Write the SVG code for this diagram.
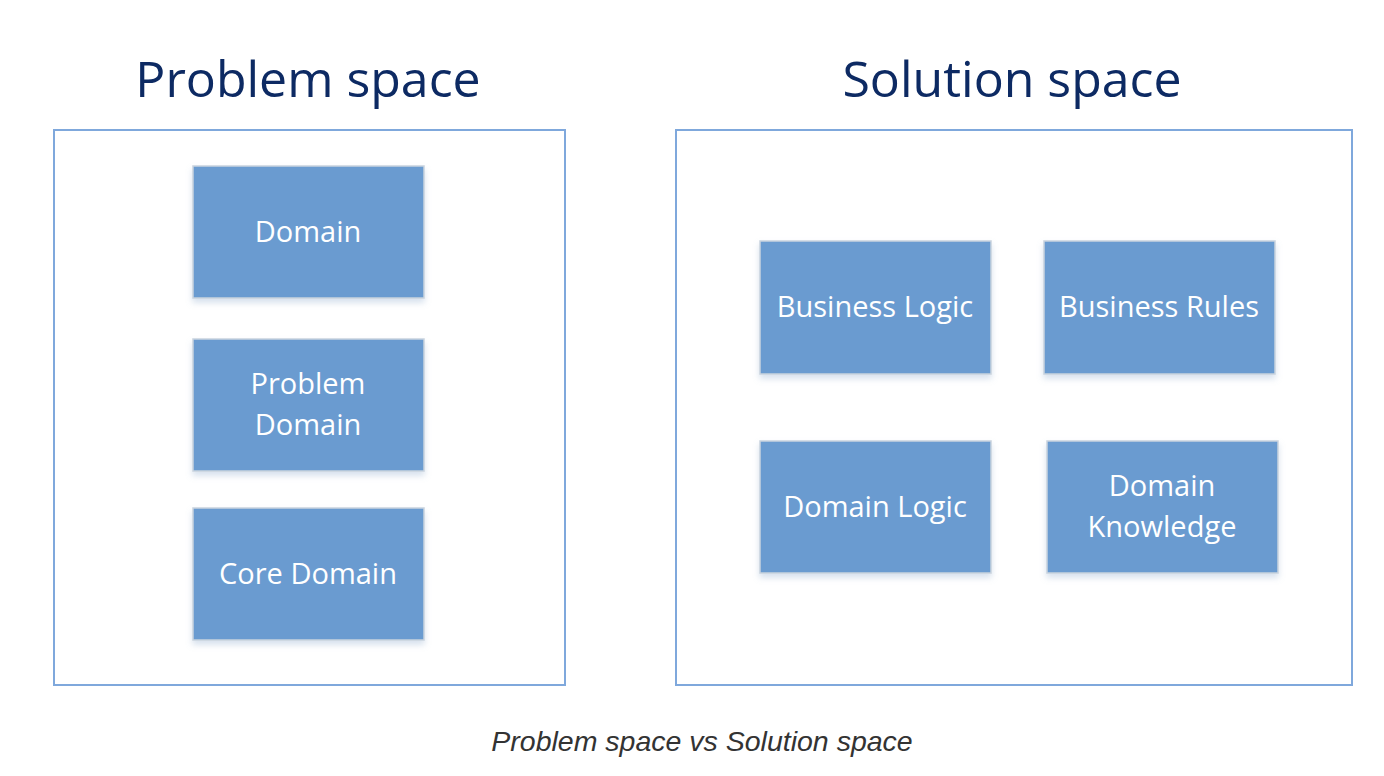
<svg xmlns="http://www.w3.org/2000/svg" width="1384" height="776" viewBox="0 0 1384 776">
<defs>
<style>
.title{font-family:"Open Sans","Noto Sans",sans-serif;font-size:50px;fill:#0D2A63;text-anchor:middle}
.container{fill:#fff;stroke:#7FA8DC;stroke-width:2}
.node rect{fill:#6A9BD0;stroke:#C9D3DE;stroke-width:1.5}
.node text{font-family:"Open Sans","Noto Sans",sans-serif;font-size:29px;fill:#fff;text-anchor:middle}
.caption{font-family:"Liberation Sans",Arial,sans-serif;font-style:italic;font-size:28.5px;fill:#333;text-anchor:middle}
</style>
<filter id="sh" x="-10%" y="-10%" width="120%" height="130%">
<feDropShadow dx="0" dy="4" stdDeviation="3" flood-color="#8AA8CC" flood-opacity="0.35"/>
</filter>
</defs>
<rect width="1384" height="776" fill="#fff"/>
<text class="title" x="308" y="97">Problem space</text>
<text class="title" x="1012" y="97">Solution space</text>
<rect id="problem-space" class="container" x="54" y="130" width="511" height="555"/>
<rect id="solution-space" class="container" x="676" y="130" width="676" height="555"/>
<g id="connectors"></g>
<g id="domain" class="node"><rect x="193" y="166" width="231" height="132" filter="url(#sh)"/><text x="308" y="242">Domain</text></g>
<g id="problem-domain" class="node"><rect x="193" y="339" width="231" height="132" filter="url(#sh)"/><text x="308" y="394">Problem</text><text x="308" y="435">Domain</text></g>
<g id="core-domain" class="node"><rect x="193" y="508" width="231" height="132" filter="url(#sh)"/><text x="308" y="584">Core Domain</text></g>
<g id="business-logic" class="node"><rect x="760" y="241" width="231" height="133" filter="url(#sh)"/><text x="875" y="317">Business Logic</text></g>
<g id="business-rules" class="node"><rect x="1044" y="241" width="231" height="133" filter="url(#sh)"/><text x="1159" y="317">Business Rules</text></g>
<g id="domain-logic" class="node"><rect x="760" y="441" width="231" height="132" filter="url(#sh)"/><text x="875" y="517">Domain Logic</text></g>
<g id="domain-knowledge" class="node"><rect x="1047" y="441" width="231" height="132" filter="url(#sh)"/><text x="1162" y="496">Domain</text><text x="1162" y="537">Knowledge</text></g>
<text class="caption" x="702" y="751">Problem space vs Solution space</text>
</svg>
